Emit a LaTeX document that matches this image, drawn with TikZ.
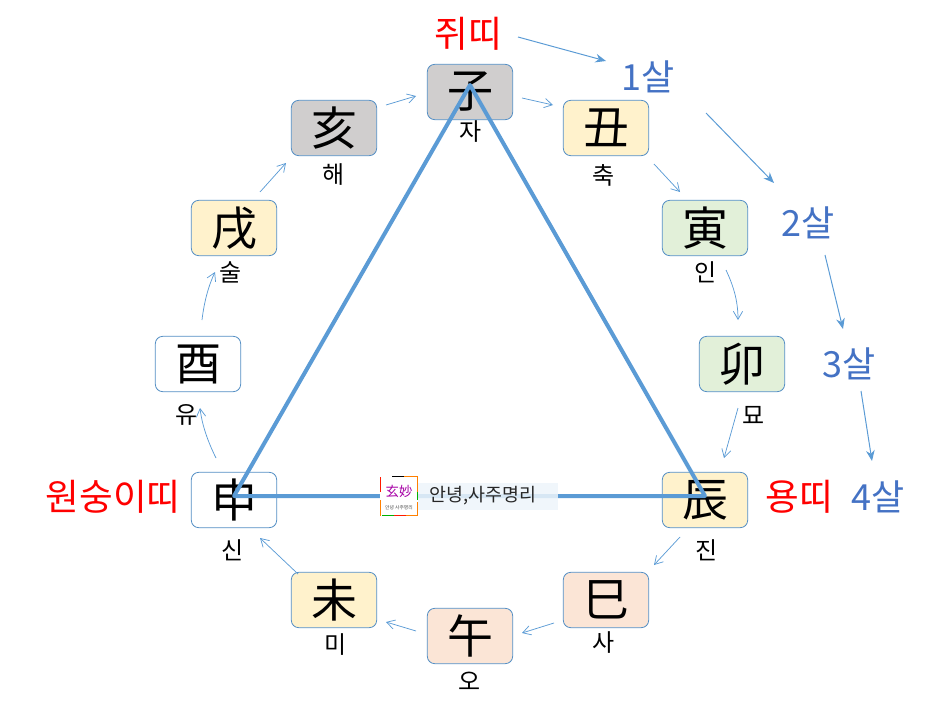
\documentclass[tikz,border=0pt]{standalone}
\usepackage{fontspec}
\setmainfont{Noto Sans CJK KR}
\usetikzlibrary{arrows.meta}
\definecolor{linkblue}{HTML}{5B9BD5}
\definecolor{agetext}{HTML}{4472C4}
\definecolor{yellowfill}{HTML}{FFF2CC}
\definecolor{greenfill}{HTML}{E2F0D9}
\definecolor{peachfill}{HTML}{FBE5D6}
\definecolor{greyfill}{HTML}{D0CECE}
\definecolor{edgeblue}{HTML}{41719C}
\tikzset{
  x=0.75pt,y=-0.75pt,
  branch/.style={draw=linkblue!70!edgeblue,line width=0.6pt,rounded corners=5.5pt,minimum width=64pt,minimum height=41.5pt,inner sep=0pt,font=\fontsize{34.5}{35}\selectfont,text=black},
  reading/.style={font=\fontsize{18}{18}\selectfont,inner sep=0pt,text=black},
  animal/.style={font=\fontsize{27.5}{27.5}\selectfont,inner sep=0pt,text=red},
  age/.style={font=\fontsize{27}{27}\selectfont,inner sep=0pt,text=agetext},
  cycle/.style={draw=linkblue,line width=0.55pt,-{Straight Barb[length=6pt,width=7pt]}},
  agearrow/.style={draw=linkblue,line width=0.75pt,-{Stealth[length=8pt,width=6.5pt]}},
  tri/.style={draw=linkblue,line width=3pt,line join=round},
}
\begin{document}
\begin{tikzpicture}
\useasboundingbox (0,0) rectangle (946,724);
% branches
\node[branch,fill=greyfill] (zi) at (470,92) {子};
\node[branch,fill=yellowfill] (chou) at (606,128) {丑};
\node[branch,fill=greenfill] (yin) at (705,228) {寅};
\node[branch,fill=greenfill] (mao) at (742,364) {卯};
\node[branch,fill=yellowfill] (chen) at (705,500) {辰};
\node[branch,fill=peachfill] (si) at (606,600) {巳};
\node[branch,fill=peachfill] (wu) at (470,636) {午};
\node[branch,fill=yellowfill] (wei) at (334,600) {未};
\node[branch,fill=white] (shen) at (234,500) {申};
\node[branch,fill=white] (you) at (198,364) {酉};
\node[branch,fill=yellowfill] (xu) at (234,228) {戌};
\node[branch,fill=greyfill] (hai) at (334,128) {亥};
% readings
\node[reading] (rzi) at (471,132) {자};
\node[reading] (rchou) at (604,175) {축};
\node[reading] (ryin) at (706,272) {인};
\node[reading] (rmao) at (754,415) {묘};
\node[reading] (rchen) at (707,550) {진};
\node[reading] (rsi) at (604,643) {사};
\node[reading] (rwu) at (470,681) {오};
\node[reading] (rwei) at (336,645) {미};
\node[reading] (rshen) at (233,550) {신};
\node[reading] (ryou) at (187,415) {유};
\node[reading] (rxu) at (231,272) {술};
\node[reading] (rhai) at (334,175) {해};
% animal labels
\node[animal] (rat) at (468,34) {쥐띠};
\node[animal] (monkey) at (113,497) {원숭이띠};
\node[animal] (dragon) at (799,497) {용띠};
% age labels
\node[age] (a1) at (648,77) {1살};
\node[age] (a2) at (808,223) {2살};
\node[age] (a3) at (849,364) {3살};
\node[age] (a4) at (878,497) {4살};
% cycle arrows
\foreach \n/\xa/\ya/\xb/\yb in {
  c1/386/105/416/96, c2/522/98/553/105, c3/654/164/680/192,
  c5/738/408/724/458, c6/680/537/654/565, c7/554/623/522/633,
  c8/416/631/386/622, c9/298/574/260/538,
  c12/260/192/286/163}{
  \coordinate (\n s) at (\xa,\ya);
  \coordinate (\n e) at (\xb,\yb);
  \draw[cycle] (\n s) -- (\n e);
}
\coordinate (c4s) at (726,270);
\coordinate (c4e) at (738,320);
\draw[cycle] (c4s) .. controls (733,285) and (738,300) .. (c4e);
\coordinate (c10s) at (216,458);
\coordinate (c10e) at (200,408);
\draw[cycle] (c10s) .. controls (208,442) and (202,425) .. (c10e);
\coordinate (c11s) at (202,320);
\coordinate (c11e) at (215,272);
\draw[cycle] (c11s) .. controls (204,303) and (208,287) .. (c11e);
% age arrows
\coordinate (g1s) at (518,37);
\coordinate (g1e) at (606,61);
\coordinate (g2s) at (706,113);
\coordinate (g2e) at (774,183);
\coordinate (g3s) at (825,255);
\coordinate (g3e) at (843,329);
\coordinate (g4s) at (861,391);
\coordinate (g4e) at (872,461);
\draw[agearrow] (g1s) -- (g1e);
\draw[agearrow] (g2s) -- (g2e);
\draw[agearrow] (g3s) -- (g3e);
\draw[agearrow] (g4s) -- (g4e);
% triangle
\coordinate (tz) at (470,85);
\coordinate (ts) at (234,496);
\coordinate (tc) at (705,496);
\draw[tri] (tz) -- (tc) -- (ts) -- cycle;
% watermark
\fill[white,fill opacity=0.7] (418,483) rectangle (558,510);
\fill[linkblue!18,fill opacity=0.5] (418,483) rectangle (558,510);
\node[font=\fontsize{13.8}{14}\selectfont,inner sep=0pt,text=black!85] (wm) at (483,496) {안녕,사주명리};
\fill[white] (380,476) rectangle (418,516);
\draw[line width=1.2pt,orange] (396,476.5) -- (417.5,476.5) -- (417.5,492);
\draw[line width=1.2pt,red!80!orange] (380.5,477) -- (380.5,492);
\draw[line width=1.2pt,green!70!black] (417.5,492) -- (417.5,500);
\draw[line width=1.2pt,black] (392,476.5) -- (404,476.5);
\draw[line width=1.2pt,orange] (380.5,500) -- (380.5,515.5);
\draw[line width=1.2pt,green!70!black] (382,515.5) -- (394,515.5);
\draw[line width=1.2pt,red!80!orange] (394,515.5) -- (406,515.5);
\draw[line width=1.2pt,orange] (406,515.5) -- (417.5,515.5) -- (417.5,502);
\node[font=\fontsize{10}{10}\selectfont,inner sep=0pt,text=violet!70!magenta] (logo) at (399,491) {玄妙};
\node[font=\fontsize{3.6}{4}\selectfont,inner sep=0pt,text=black!70] (logosub) at (399,508) {안녕 사주명리};
\end{tikzpicture}
\end{document}
